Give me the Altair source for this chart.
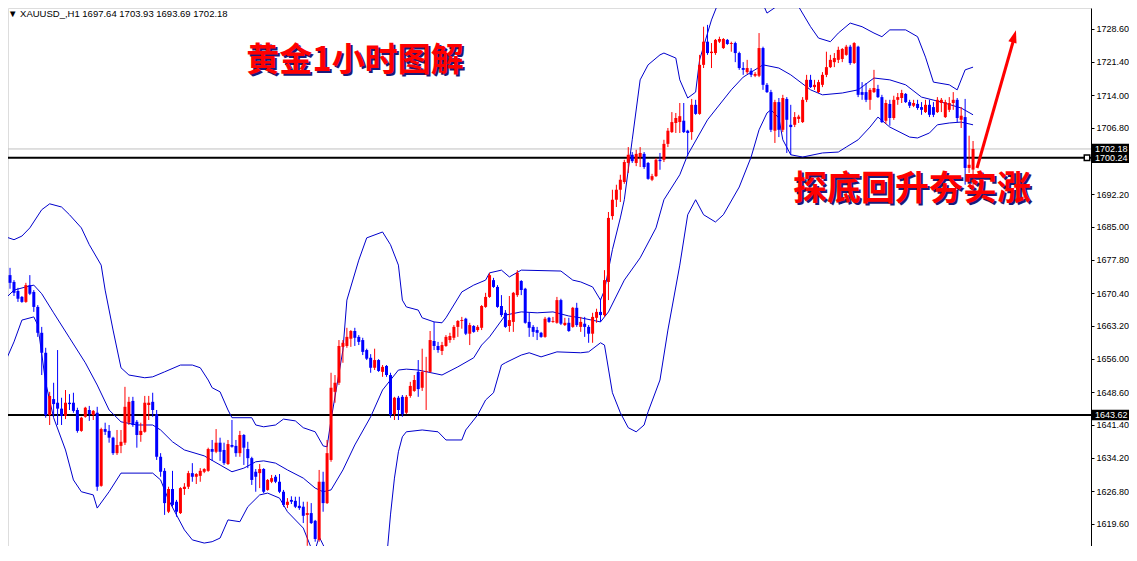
import altair as alt
import pandas as pd

# ---------------- data ----------------
OPEN = [1672.5,1674.4,1672.9,1670.9,1669.6,1668.5,1672.2,1670.7,1667.4,1661.7,
        1657.3,1643.6,1647.1,1646.3,1645.0,1643.4,1646.3,1646.3,1644.7,1640.1,
        1643.2,1644.7,1643.6,1644.1,1628.0,1640.5,1640.1,1638.6,1635.2,1636.8,
        1637.5,1641.9,1646.7,1642.1,1639.2,1639.9,1645.8,1646.5,1643.8,1634.4,
        1631.3,1622.3,1627.3,1624.5,1622.0,1627.3,1627.8,1630.8,1630.0,1630.2,
        1631.1,1631.3,1636.1,1635.5,1637.5,1635.9,1632.8,1637.0,1636.8,1635.2,
        1639.2,1636.1,1634.1,1631.1,1630.8,1631.7,1627.1,1628.9,1630.0,1628.9,
        1626.7,1623.8,1624.9,1624.7,1623.6,1623.4,1621.6,1622.0,1620.3,1616.1,
        1628.9,1624.2,1633.7,1648.7,1650.7,1658.6,1658.8,1660.4,1662.1,1660.8,
        1660.1,1657.9,1656.2,1654.0,1655.7,1653.1,1654.4,1652.4,1643.8,1647.4,
        1647.6,1644.1,1647.8,1648.9,1653.1,1649.6,1653.1,1653.1,1659.9,1658.8,
        1657.7,1658.8,1660.1,1660.6,1663.0,1664.3,1664.8,1661.5,1663.2,1662.3,
        1662.8,1667.4,1669.6,1673.3,1671.8,1667.6,1666.1,1663.2,1664.1,1670.0,
        1673.1,1671.4,1664.1,1663.0,1662.3,1661.7,1660.8,1665.0,1664.1,1663.9,
        1668.9,1663.4,1663.9,1663.0,1667.2,1663.0,1663.7,1663.0,1661.5,1665.0,
        1666.3,1665.6,1672.9,1687.4,1691.0,1693.2,1694.9,1699.1,1700.9,1699.1,
        1700.4,1701.1,1699.1,1695.4,1696.2,1699.8,1699.8,1703.3,1705.9,1707.9,
        1708.1,1708.4,1706.2,1705.9,1711.9,1709.9,1720.7,1725.8,1723.3,1723.3,
        1725.8,1724.4,1726.2,1725.3,1725.5,1723.3,1720.0,1719.1,1719.4,1718.3,
        1718.3,1724.4,1716.3,1714.7,1706.2,1712.5,1706.4,1713.2,1707.5,1707.5,
        1708.8,1708.1,1713.0,1717.4,1715.8,1714.7,1716.3,1718.5,1720.2,1721.3,
        1721.8,1722.0,1722.9,1724.7,1721.1,1724.7,1714.7,1714.7,1713.0,1714.7,
        1715.4,1713.6,1708.4,1712.1,1709.0,1713.0,1713.4,1714.3,1712.5,1711.7,
        1712.1,1711.4,1710.3,1711.9,1711.4,1710.3,1712.3,1709.2,1710.8,1712.3,
        1713.0,1708.6,1709.2,1698.0,1697.64]
HIGH = [1675.1,1676.0,1673.3,1671.6,1669.8,1672.7,1674.4,1671.1,1667.8,1663.0,
        1658.4,1648.7,1650.7,1657.9,1647.4,1649.1,1648.2,1648.5,1645.2,1643.2,
        1645.4,1645.6,1644.7,1645.4,1640.8,1641.9,1641.4,1638.8,1640.3,1640.3,
        1649.8,1647.6,1647.6,1642.5,1641.9,1647.8,1647.8,1648.5,1644.7,1635.2,
        1631.9,1627.8,1631.3,1624.9,1627.7,1628.6,1631.3,1633.0,1630.8,1631.9,
        1631.9,1636.4,1638.1,1640.5,1638.6,1637.5,1638.1,1642.5,1638.1,1640.1,
        1639.4,1637.7,1634.4,1631.7,1632.8,1631.9,1629.5,1630.4,1630.4,1630.6,
        1627.1,1625.3,1625.7,1625.6,1625.6,1624.5,1624.5,1624.2,1620.5,1631.5,
        1631.1,1638.1,1652.9,1652.4,1660.1,1660.1,1662.8,1662.3,1662.8,1661.2,
        1660.6,1658.2,1657.0,1658.2,1655.9,1654.6,1654.6,1652.9,1647.6,1647.8,
        1648.0,1648.0,1650.9,1652.4,1655.7,1658.2,1656.4,1662.1,1664.1,1659.7,
        1659.7,1661.2,1661.7,1663.4,1664.5,1665.2,1665.0,1663.9,1663.4,1663.4,
        1667.8,1670.5,1674.9,1673.8,1672.2,1670.0,1666.7,1669.8,1670.7,1675.5,
        1673.3,1671.6,1666.1,1663.4,1663.0,1661.9,1665.2,1665.2,1665.2,1669.6,
        1669.2,1665.0,1665.0,1667.4,1668.3,1665.2,1665.2,1663.4,1666.1,1667.0,
        1669.2,1675.5,1688.3,1693.2,1694.3,1696.5,1699.8,1702.6,1701.5,1702.0,
        1702.6,1701.5,1699.3,1696.7,1700.2,1701.3,1704.2,1706.8,1710.3,1710.1,
        1712.3,1712.3,1706.4,1713.2,1713.0,1722.9,1729.1,1729.5,1725.5,1726.4,
        1726.9,1726.6,1726.4,1725.8,1725.8,1723.6,1721.3,1721.8,1720.0,1719.1,
        1727.7,1724.7,1716.7,1715.2,1713.0,1713.4,1714.1,1713.6,1711.9,1710.3,
        1709.7,1713.6,1718.5,1718.5,1717.4,1717.4,1719.1,1723.6,1722.9,1723.3,
        1724.7,1724.4,1725.1,1725.1,1725.7,1724.9,1716.9,1716.7,1715.6,1719.6,
        1716.3,1714.1,1713.0,1713.0,1713.9,1714.5,1715.2,1714.5,1713.0,1713.0,
        1713.0,1712.5,1713.0,1713.0,1712.5,1713.6,1713.4,1713.0,1713.6,1714.7,
        1713.4,1711.4,1713.2,1705.1,1703.93]
LOW = [1671.8,1671.4,1669.8,1668.5,1668.3,1668.3,1670.0,1666.3,1660.8,1652.4,
       1643.0,1641.4,1643.2,1641.4,1641.4,1642.7,1644.7,1644.1,1639.7,1639.9,
       1643.0,1642.3,1642.5,1626.9,1627.8,1639.2,1637.5,1634.8,1634.8,1635.2,
       1637.0,1641.4,1641.0,1636.4,1637.7,1639.7,1642.5,1643.2,1633.7,1630.0,
       1621.6,1622.0,1623.4,1621.2,1621.8,1626.0,1627.3,1628.9,1628.4,1628.9,
       1630.8,1631.1,1633.5,1635.2,1633.5,1632.6,1632.6,1636.4,1634.4,1634.4,
       1632.6,1631.9,1628.2,1626.7,1627.5,1626.4,1626.9,1628.6,1628.6,1626.4,
       1623.4,1623.1,1624.0,1623.1,1622.7,1619.8,1614.8,1619.6,1615.7,1615.7,
       1622.3,1624.0,1633.3,1646.3,1650.2,1655.1,1658.4,1658.6,1658.8,1659.0,
       1656.8,1655.7,1652.9,1653.5,1653.1,1652.0,1652.0,1643.0,1642.5,1642.5,
       1643.2,1643.8,1647.4,1648.7,1647.6,1648.9,1644.7,1652.9,1657.9,1657.3,
       1656.8,1658.6,1659.5,1660.1,1660.8,1662.6,1661.2,1659.0,1661.7,1661.9,
       1662.3,1667.2,1669.4,1671.6,1667.2,1665.2,1662.8,1661.9,1661.9,1669.6,
       1670.0,1663.7,1660.8,1660.8,1660.1,1660.6,1660.6,1663.9,1663.9,1663.7,
       1663.4,1663.2,1661.9,1662.8,1663.0,1661.9,1660.8,1659.5,1659.5,1663.9,
       1664.1,1665.2,1668.9,1686.6,1689.4,1690.5,1694.5,1696.9,1699.1,1698.4,
       1698.2,1697.8,1695.4,1695.1,1696.0,1697.6,1699.3,1702.6,1705.7,1705.7,
       1705.7,1705.7,1700.6,1704.2,1709.7,1709.7,1720.0,1722.9,1720.0,1722.9,
       1725.5,1724.2,1725.1,1723.6,1721.3,1719.6,1718.5,1718.7,1718.0,1718.0,
       1718.0,1715.2,1714.5,1705.9,1703.5,1704.8,1705.9,1701.3,1700.9,1707.0,
       1707.9,1707.9,1712.5,1715.6,1715.2,1714.5,1715.8,1718.0,1720.0,1720.2,
       1721.1,1721.3,1722.7,1720.7,1720.9,1713.6,1713.0,1712.5,1710.8,1714.5,
       1713.4,1707.9,1707.7,1707.3,1708.6,1711.9,1712.3,1712.3,1711.2,1711.4,
       1710.8,1709.7,1710.1,1709.2,1709.2,1710.1,1710.3,1709.0,1710.3,1710.8,
       1708.1,1706.8,1694.3,1696.9,1693.69]
CLOSE = [1674.7,1672.7,1670.5,1669.2,1668.5,1672.2,1670.3,1667.4,1661.7,1657.3,
         1643.6,1647.8,1646.0,1645.0,1643.4,1646.3,1646.0,1644.5,1640.1,1643.0,
         1645.2,1643.8,1644.5,1627.8,1640.5,1639.9,1638.6,1635.2,1637.0,1637.7,
         1645.4,1646.5,1641.4,1639.2,1640.1,1646.3,1646.3,1644.7,1634.4,1631.1,
         1624.2,1627.3,1623.8,1622.3,1627.5,1627.8,1630.8,1630.0,1630.6,1631.3,
         1631.7,1636.1,1635.5,1637.5,1635.5,1633.0,1637.2,1636.6,1635.2,1639.2,
         1636.4,1634.1,1629.3,1630.0,1631.7,1626.7,1629.3,1629.7,1628.9,1626.7,
         1623.8,1624.5,1624.5,1623.4,1623.1,1621.4,1622.0,1619.8,1616.3,1628.9,
         1624.2,1635.2,1649.6,1650.7,1658.8,1659.5,1660.8,1662.1,1660.6,1659.7,
         1657.5,1656.0,1654.0,1655.7,1653.3,1654.2,1652.4,1643.6,1647.4,1644.7,
         1643.8,1647.6,1650.0,1651.3,1649.3,1653.1,1653.3,1660.1,1658.8,1657.9,
         1659.0,1660.8,1661.0,1663.0,1664.3,1664.5,1661.5,1663.4,1661.9,1663.0,
         1667.6,1669.6,1674.4,1671.8,1667.4,1665.6,1663.0,1664.5,1670.5,1674.9,
         1671.1,1663.9,1662.8,1661.9,1661.7,1660.8,1664.8,1664.1,1664.3,1668.9,
         1663.7,1663.9,1662.1,1667.2,1663.4,1664.1,1663.0,1661.5,1665.2,1666.3,
         1665.6,1673.3,1687.0,1691.0,1693.2,1695.4,1699.3,1700.9,1699.5,1701.1,
         1701.3,1698.2,1695.6,1696.2,1699.8,1699.5,1703.3,1706.2,1708.1,1709.0,
         1709.4,1705.9,1705.7,1711.9,1709.9,1720.7,1725.8,1723.3,1723.6,1726.2,
         1726.4,1726.4,1725.3,1725.5,1723.3,1720.0,1719.6,1720.0,1718.5,1718.7,
         1724.4,1716.3,1714.7,1706.4,1712.5,1706.4,1713.4,1708.6,1707.0,1709.2,
         1709.3,1713.0,1717.4,1715.8,1716.3,1716.9,1718.5,1720.2,1721.8,1722.2,
         1724.0,1724.2,1724.7,1721.1,1725.5,1714.1,1714.1,1713.0,1715.2,1715.6,
         1713.6,1708.1,1712.3,1709.0,1713.0,1713.6,1714.5,1712.5,1711.7,1712.3,
         1711.2,1710.8,1711.9,1709.7,1709.7,1713.0,1713.0,1712.5,1712.3,1713.0,
         1709.0,1709.5,1698.0,1698.7,1702.18]

# Bollinger band lines, sampled (bar index, price)
UB_I = [0,2,4,6,9,11,14,16,19,21,24,25,27,29,31,35,37,40,44,47,49,51,52,54,56,57,62,63,65,68,
        70,73,75,78,80,81,82,85,86,89,91,95,97,99,100,101,104,105,108,110,111,115,118,121,122,
        125,127,130,140,143,145,148,150,151,153,155,156,158,160,162,165,166,169,170,172,174,175,
        178,180,185,190,192,195,200,203,205,208,210,213,216,219,221,223,227,230,232,234,238,240,
        242,244]
UB_P = [1682.8,1682.2,1683.0,1684.8,1688.8,1690.1,1689.4,1687.7,1684.8,1681.1,1676.6,1671.1,
        1662.3,1654.0,1652.4,1651.8,1652.0,1653.1,1654.6,1654.6,1654.0,1651.3,1649.6,1648.7,
        1644.7,1643.0,1643.0,1641.4,1641.0,1641.4,1642.7,1642.3,1640.8,1639.9,1636.8,1636.6,
        1642.5,1657.9,1668.9,1677.7,1682.6,1683.9,1681.1,1676.6,1668.9,1667.4,1666.7,1665.0,
        1664.1,1663.9,1665.0,1670.7,1672.2,1673.3,1674.9,1675.5,1674.0,1675.5,1675.3,1673.3,
        1672.9,1671.8,1668.9,1671.1,1680.0,1687.0,1691.0,1704.2,1717.4,1720.7,1722.9,1723.3,
        1722.2,1717.4,1713.4,1714.7,1721.8,1730.6,1735.0,1738.3,1736.1,1732.1,1733.9,1733.5,
        1729.1,1726.6,1725.8,1727.7,1729.9,1729.1,1727.7,1726.9,1728.4,1728.4,1726.9,1722.4,
        1716.9,1716.3,1715.2,1719.6,1720.2]
MB_I = [0,2,5,7,9,12,16,20,23,26,29,33,37,39,42,45,50,54,57,60,63,65,68,71,75,78,80,82,85,88,
        92,95,99,101,104,110,114,118,120,122,126,130,134,138,142,145,150,152,156,160,164,166,
        170,172,177,183,186,191,195,198,203,206,211,215,219,223,227,231,236,241,244]
MB_P = [1669.4,1671.1,1671.8,1672.2,1670.3,1666.1,1660.6,1655.1,1650.2,1644.7,1642.1,1641.4,
        1641.4,1640.3,1637.7,1635.9,1634.6,1632.6,1631.1,1631.9,1633.3,1633.5,1633.0,1631.5,
        1629.7,1627.5,1626.7,1627.1,1631.5,1637.0,1643.2,1649.1,1653.5,1653.7,1653.5,1652.4,
        1654.2,1656.2,1659.0,1660.8,1665.6,1666.3,1666.1,1666.3,1665.4,1665.0,1664.1,1666.3,
        1673.3,1678.2,1684.8,1691.0,1696.5,1700.9,1708.6,1715.2,1718.0,1720.7,1720.0,1718.5,
        1715.2,1714.1,1714.5,1715.2,1717.8,1717.4,1716.3,1713.6,1712.5,1711.2,1709.7]
LB_I = [0,2,4,7,8,10,12,15,17,19,22,23,26,29,37,39,41,45,47,50,52,54,56,59,61,64,66,69,71,75,
        77,78,79,80,82,85,90,93,95,96,97,98,99,100,101,105,109,111,115,116,119,121,123,125,126,
        130,132,135,139,145,147,150,151,153,155,157,159,161,162,165,167,170,172,174,176,179,181,
        185,188,190,192,193,195,196,198,201,206,210,212,215,218,220,223,228,230,233,235,238,241,
        244]
LB_P = [1655.7,1659.7,1664.5,1665.2,1663.4,1650.7,1643.0,1635.9,1629.3,1626.7,1626.0,1623.1,
        1626.7,1630.8,1630.8,1629.3,1624.9,1618.3,1616.1,1615.4,1615.7,1616.5,1620.5,1620.1,
        1623.4,1626.0,1626.4,1625.3,1622.3,1618.7,1614.3,1613.9,1616.8,1615.0,1611.7,1602.9,
        1598.5,1602.9,1608.4,1611.7,1621.6,1629.7,1635.5,1638.8,1639.9,1640.3,1639.9,1638.1,
        1638.1,1640.3,1643.6,1646.9,1648.5,1654.6,1655.1,1656.8,1657.3,1656.4,1657.5,1657.3,
        1657.5,1659.5,1659.0,1648.5,1644.1,1640.8,1639.9,1641.4,1644.3,1651.3,1662.3,1676.6,
        1687.7,1691.0,1687.7,1686.1,1687.7,1693.8,1700.4,1706.4,1710.1,1710.8,1709.0,1704.2,
        1700.9,1700.4,1701.3,1701.5,1702.6,1704.2,1707.0,1709.2,1707.0,1704.8,1704.6,1705.7,
        1707.5,1707.9,1708.1,1707.5]

Y_TICKS = [1728.60, 1721.40, 1714.00, 1706.80, 1699.40, 1692.20, 1685.00, 1677.80, 1670.40,
           1663.20, 1656.00, 1648.60, 1641.40, 1634.20, 1626.80, 1619.60, 1612.40]
HIDDEN_TICK = 1699.40          # its label sits under the price tags
LEVELS = [1700.24, 1643.62]
BID = 1702.18
TAGS = [1702.18, 1700.24, 1643.62]

HEADER = "XAUUSD_,H1  1697.64 1703.93 1693.69 1702.18"
TITLE1 = "黄金1小时图解"
TITLE2 = "探底回升夯实涨"

# ---------------- styling ----------------
W, H = 1083, 538
PX = 0.2202                      # price units per pixel
TOP = 1733.22
RED = "#ff0000"
BLUE = "#0000ff"
BAND = "#0000cc"

xs = alt.Scale(domain=[1.75, 1.75 + W / 4.0], nice=False, zero=False)
ys = alt.Scale(domain=[TOP - H * PX, TOP], nice=False, zero=False)
yaxis = alt.Axis(orient="right", values=Y_TICKS, title=None, grid=False,
                 labelExpr=f"abs(datum.value - {HIDDEN_TICK}) < 0.01 ? '' : format(datum.value, '.2f')",
                 labelFont="Liberation Sans", labelFontSize=9, labelColor="#000000",
                 tickColor="#000000", tickSize=3, domainColor="#000000", labelPadding=2,
                 labelOverlap=False, labelFlush=False, labelBound=False)


def X(f):
    return alt.X(f, type="quantitative", scale=xs, axis=None)


def Y(f):
    return alt.Y(f, type="quantitative", scale=ys, axis=yaxis)


n = len(OPEN)
cdf = pd.DataFrame({"i": list(range(n)), "o": OPEN, "h": HIGH, "l": LOW, "c": CLOSE})
cdf["dir"] = ["up" if c > o else "down" for o, c in zip(OPEN, CLOSE)]
col = alt.Color("dir:N", scale=alt.Scale(domain=["up", "down"], range=[RED, BLUE]), legend=None)

wicks = alt.Chart(cdf).mark_rule(strokeWidth=1, clip=True).encode(x=X("i"), y=Y("l"), y2="h", color=col)
bodies = alt.Chart(cdf).mark_bar(size=3, clip=True).encode(x=X("i"), y=Y("o"), y2="c", color=col)

bands = pd.concat([
    pd.DataFrame({"band": "upper", "i": UB_I, "p": UB_P}),
    pd.DataFrame({"band": "middle", "i": MB_I, "p": MB_P}),
    pd.DataFrame({"band": "lower", "i": LB_I, "p": LB_P}),
])
band_lines = alt.Chart(bands).mark_line(strokeWidth=1, color=BAND, clip=True).encode(
    x=X("i"), y=Y("p"), detail="band:N")

bid_line = alt.Chart(pd.DataFrame({"p": [BID]})).mark_rule(color="#c0c0c0", strokeWidth=1).encode(
    y=Y("p"), x=alt.value(0), x2=alt.value(W))
level_lines = alt.Chart(pd.DataFrame({"p": LEVELS})).mark_rule(color="#000000", strokeWidth=2).encode(
    y=Y("p"), x=alt.value(0), x2=alt.value(W))
level_mark = alt.Chart(pd.DataFrame({"p": [LEVELS[0]]})).mark_point(
    shape="square", filled=True, fill="#ffffff", stroke="#000000", strokeWidth=1.5, size=30, opacity=1
).encode(y=Y("p"), x=alt.value(W - 4))

tag_df = pd.DataFrame({"p": TAGS, "label": [f"{v:.2f}" for v in TAGS]})
tag_box = alt.Chart(tag_df).mark_rect(color="#000000", clip=False).transform_calculate(
    lo="datum.p - 1.15", hi="datum.p + 1.15").encode(
    y=Y("lo"), y2="hi:Q", x=alt.value(W + 1), x2=alt.value(W + 38))
tag_text = alt.Chart(tag_df).mark_text(align="left", baseline="middle", font="Liberation Sans",
                                       fontSize=9, color="#ffffff").encode(
    y=Y("p"), x=alt.value(W + 4), text="label:N")

header = alt.Chart(pd.DataFrame({"t": ["\u25bc " + HEADER]})).mark_text(
    align="left", baseline="top", font="Liberation Sans", fontSize=9.5, color="#000000").encode(
    text="t:N", x=alt.value(0), y=alt.value(1))


def shadow_text(txt, cx, cy, size):
    d = pd.DataFrame({"t": [txt]})
    sh = alt.Chart(d).mark_text(align="center", baseline="middle", font="Noto Sans CJK SC",
                                fontWeight="bold", fontSize=size, color="#1a1a7a").encode(
        text="t:N", x=alt.value(cx + 2), y=alt.value(cy + 2))
    fg = alt.Chart(d).mark_text(align="center", baseline="middle", font="Noto Sans CJK SC",
                                fontWeight="bold", fontSize=size, color=RED).encode(
        text="t:N", x=alt.value(cx), y=alt.value(cy))
    return [sh, fg]


arrow_line = alt.Chart(pd.DataFrame({"a": [0]})).mark_rule(color=RED, strokeWidth=3).encode(
    x=alt.value(969), y=alt.value(160), x2=alt.value(1005), y2=alt.value(34))
arrow_head = alt.Chart(pd.DataFrame({"a": [0]})).mark_point(
    shape="M0,-1L0.6,0.8L-0.6,0.8Z", filled=True, color=RED, size=200, angle=16, opacity=1).encode(
    x=alt.value(1006), y=alt.value(29))

layers = [bid_line, level_lines, band_lines, wicks, bodies, level_mark, tag_box, tag_text, header]
layers += shadow_text(TITLE1, 347, 53, 33)
layers += shadow_text(TITLE2, 904, 182, 34)
layers += [arrow_line, arrow_head]

chart = alt.layer(*layers).properties(
    width=W, height=H,
    autosize=alt.AutoSizeParams(type="none"),
    padding={"left": 0, "top": 0, "right": 38, "bottom": 0},
).configure_view(stroke=None).configure(background="#ffffff")

chart.save("out.html", embed_options={"renderer": "svg", "actions": False})
